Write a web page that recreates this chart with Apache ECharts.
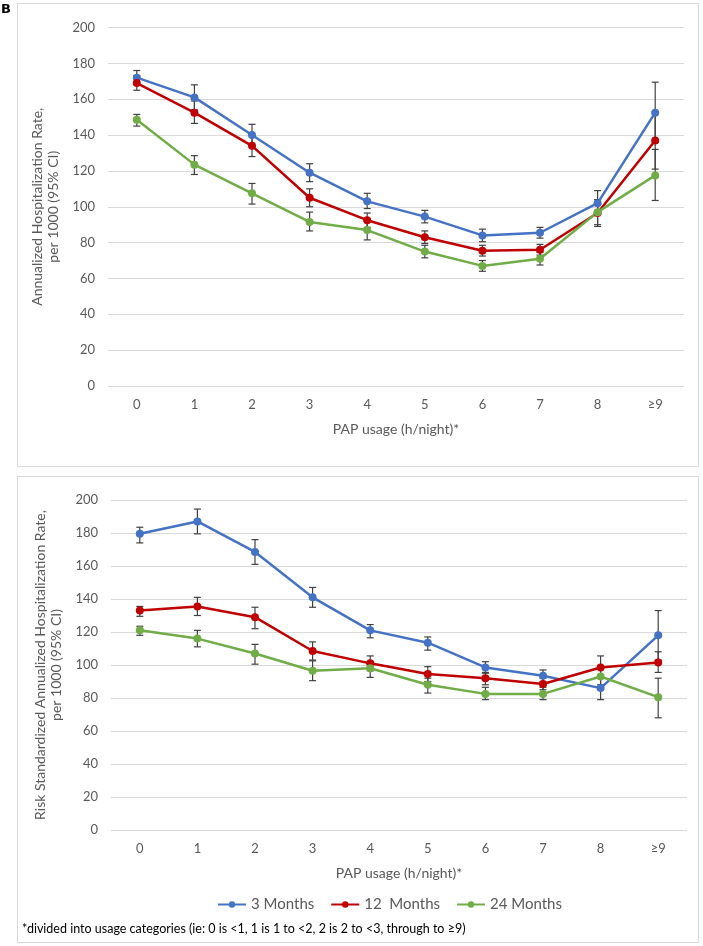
<!DOCTYPE html>
<html>
<head>
<meta charset="utf-8">
<script src="https://cdn.jsdelivr.net/npm/echarts@6/dist/echarts.min.js"></script>
<style>
html,body{margin:0;padding:0;background:#fff;}
#chart{width:703px;height:946px;}
</style>
</head>
<body>
<div id="chart"></div>
<script>
const categories = ['0','1','2','3','4','5','6','7','8','\u22659'];
const seriesNames = ['3 Months', '12  Months', '24 Months'];
const yTicks = [0, 20, 40, 60, 80, 100, 120, 140, 160, 180, 200];

// Panel A: annualized hospitalization rate
const top3   = [172, 161, 140, 119, 103, 94.5, 84, 85.5, 102, 152.5];
const top3Lo = [168, 154, 134, 114, 99, 91, 80.5, 82.5, 96, 136];
const top3Hi = [176, 168, 146, 124, 107.5, 98, 87.5, 88.5, 109, 169.5];
const top12   = [169, 152.5, 134, 105, 92.5, 83, 75.5, 76, 96.5, 137];
const top12Lo = [165, 146.5, 128, 100, 88.5, 79.5, 72.5, 73, 89, 121];
const top12Hi = [173, 159, 140, 110, 96.5, 86.5, 78.5, 79, 104, 153];
const top24   = [148.5, 123.5, 107.5, 91.5, 87, 75, 67, 71, 97, 117.5];
const top24Lo = [145, 118, 101.5, 86.5, 81.5, 71.5, 64, 67.5, 90, 103.5];
const top24Hi = [151.5, 128.5, 113, 97, 92, 78.5, 70, 74.5, 103, 132];

// Panel B: risk standardized annualized hospitalization rate
const bot3   = [179.5, 187, 168.5, 141, 121, 113.5, 98.5, 93.5, 86, 118];
const bot3Lo = [174, 179.5, 161, 135, 116.5, 109, 95, 90, 79, 103];
const bot3Hi = [183.5, 194.5, 176, 147, 124.5, 117, 102, 97, 92.5, 133];
const bot12   = [133, 135.5, 129, 108.5, 101, 94.5, 92, 88.5, 98.5, 101.5];
const bot12Lo = [129.5, 130, 122, 103, 96.5, 90, 88, 85, 92, 95.5];
const bot12Hi = [135.5, 141, 135, 114, 105.5, 99, 95.5, 92, 105.5, 108];
const bot24   = [121, 116, 107, 96.5, 98, 88, 82.5, 82.5, 93, 80.5];
const bot24Lo = [118, 111, 100.5, 90.5, 92.5, 83, 79, 79, 88, 68];
const bot24Hi = [123.5, 121, 112.5, 102.5, 102, 92, 86.5, 86.5, 98, 92];

const colors = ['#4472C4', '#C00000', '#70AD47'];
const FONT = 'Lato, "Open Sans", sans-serif';
const GRAY = '#595959';

function errSeries(lo, hi, axisIdx) {
  const data = lo.map((l, i) => [i, l, hi[i]]);
  return {
    type: 'custom',
    xAxisIndex: axisIdx, yAxisIndex: axisIdx,
    z: 1, silent: true,
    data: data,
    renderItem: function (params, api) {
      const x = api.value(0);
      const p1 = api.coord([x, api.value(1)]);
      const p2 = api.coord([x, api.value(2)]);
      const w = 3.5;
      const st = {stroke: '#404040', lineWidth: 1.2};
      return {
        type: 'group',
        children: [
          {type: 'line', shape: {x1: p1[0], y1: p1[1], x2: p2[0], y2: p2[1]}, style: st},
          {type: 'line', shape: {x1: p1[0]-w, y1: p1[1], x2: p1[0]+w, y2: p1[1]}, style: st},
          {type: 'line', shape: {x1: p2[0]-w, y1: p2[1], x2: p2[0]+w, y2: p2[1]}, style: st}
        ]
      };
    }
  };
}

function lineSeries(name, data, color, axisIdx) {
  return {
    type: 'line', name: name, data: data,
    xAxisIndex: axisIdx, yAxisIndex: axisIdx,
    z: 3,
    symbol: 'circle', symbolSize: 8,
    lineStyle: {color: color, width: 2.5},
    itemStyle: {color: color},
    emphasis: {disabled: true}
  };
}

function xAxis(gridIdx) {
  return {
    type: 'category', gridIndex: gridIdx, data: categories,
    boundaryGap: true,
    axisLine: {show: false}, axisTick: {show: false},
    axisLabel: {color: GRAY, fontSize: 13, fontFamily: FONT, margin: 12},
    name: 'PAP usage (h/night)*', nameLocation: 'middle', nameGap: 36,
    nameTextStyle: {color: GRAY, fontSize: 14, fontFamily: FONT}
  };
}

function yAxis(gridIdx, title, gap) {
  return {
    type: 'value', gridIndex: gridIdx, min: yTicks[0], max: yTicks[yTicks.length-1], interval: 20,
    axisLine: {show: false}, axisTick: {show: false},
    splitLine: {lineStyle: {color: '#d9d9d9', width: 1}},
    axisLabel: {color: GRAY, fontSize: 13, fontFamily: FONT, margin: 13},
    name: title, nameLocation: 'middle', nameRotate: 90, nameGap: gap,
    nameTextStyle: {color: GRAY, fontSize: 14, fontFamily: FONT, lineHeight: 16, align: 'center'}
  };
}

const chart = echarts.init(document.getElementById('chart'), null, {renderer: 'canvas'});
chart.setOption({
  animation: false,
  backgroundColor: '#fff',
  color: colors,
  graphic: [
    {type: 'rect', shape: {x: 17.5, y: 3.5, width: 681, height: 463}, style: {fill: 'none', stroke: '#d9d9d9', lineWidth: 1}, z: -1},
    {type: 'rect', shape: {x: 17.5, y: 476.5, width: 681, height: 466}, style: {fill: 'none', stroke: '#d9d9d9', lineWidth: 1}, z: -1},
    {type: 'text', left: 1, top: 3, style: {text: 'B', font: 'bold 13px "DejaVu Sans", sans-serif', fill: '#000'}},
    {type: 'text', left: 22, top: 922, style: {text: '*divided into usage categories (ie: 0 is <1, 1 is 1 to <2, 2 is 2 to <3, through to \u22659)', font: '12.5px ' + FONT, fill: '#000'}}
  ],
  grid: [
    {left: 108, top: 27.5, width: 576, height: 358.5},
    {left: 111, top: 500, width: 576, height: 330}
  ],
  xAxis: [xAxis(0), xAxis(1)],
  yAxis: [
    yAxis(0, 'Annualized Hospitalization Rate,\nper 1000 (95% CI)', 44),
    yAxis(1, 'Risk Standardized Annualized Hospitalization Rate,\nper 1000 (95% CI)', 43)
  ],
  legend: {
    data: seriesNames, left: 212, top: 892,
    itemWidth: 28, itemHeight: 8, itemGap: 16,
    textStyle: {color: GRAY, fontSize: 15, fontFamily: FONT}
  },
  series: [
    errSeries(top3Lo, top3Hi, 0), errSeries(top12Lo, top12Hi, 0), errSeries(top24Lo, top24Hi, 0),
    errSeries(bot3Lo, bot3Hi, 1), errSeries(bot12Lo, bot12Hi, 1), errSeries(bot24Lo, bot24Hi, 1),
    lineSeries(seriesNames[0], top3, colors[0], 0),
    lineSeries(seriesNames[1], top12, colors[1], 0),
    lineSeries(seriesNames[2], top24, colors[2], 0),
    lineSeries(seriesNames[0], bot3, colors[0], 1),
    lineSeries(seriesNames[1], bot12, colors[1], 1),
    lineSeries(seriesNames[2], bot24, colors[2], 1)
  ]
});
</script>
</body>
</html>
